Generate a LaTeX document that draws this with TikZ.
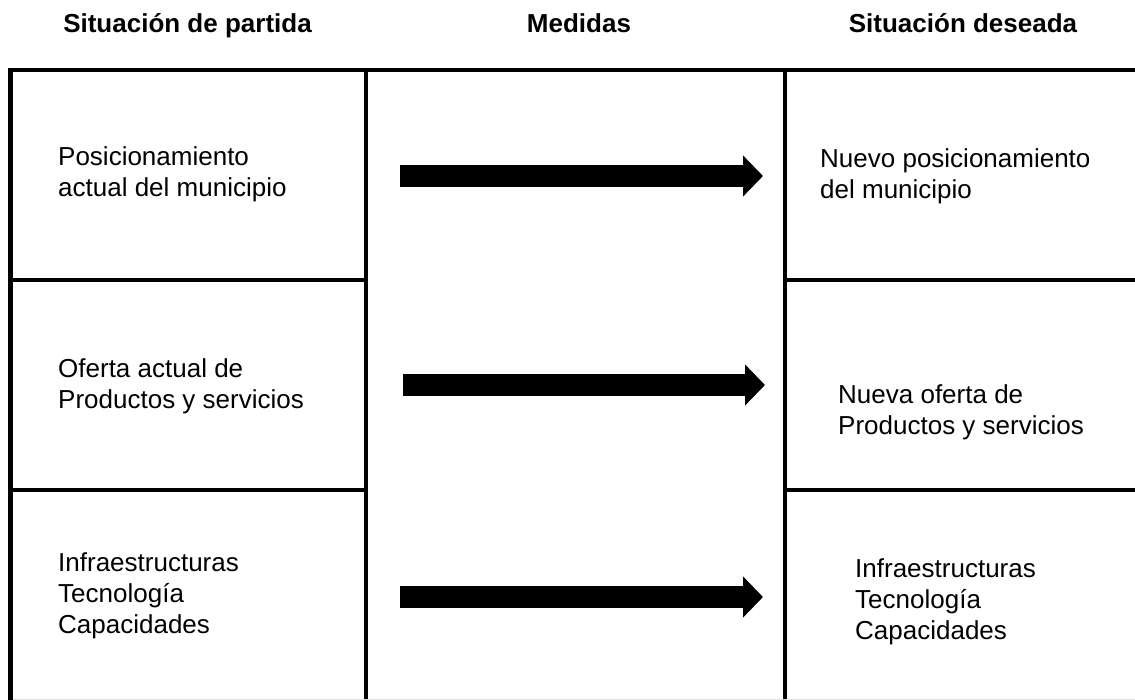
\documentclass[tikz,border=0pt]{standalone}
\usepackage{fontspec}
\setmainfont{Liberation Sans}
\usetikzlibrary{arrows.meta}
\begin{document}
\begin{tikzpicture}[x=1pt, y=-1pt,
  grid/.style={line width=4.5pt},
  head/.style={font=\fontsize{26}{31}\selectfont\bfseries, anchor=base, inner sep=0pt},
  cell/.style={font=\fontsize{26}{31}\selectfont, align=left, anchor=north west, inner sep=0pt},
  bigarrow/.style={line width=22pt, -{Triangle[length=20pt,width=40pt]}}]
\useasboundingbox (0,0) rectangle (1135,700);
% headings
\node[head] (hdstart) at (187.5,33) {Situación de partida};
\node[head] (hdmeasures) at (579,33) {Medidas};
\node[head] (hdgoal) at (963,33) {Situación deseada};
% table lines
\draw[grid] (1135,70) -- (10.5,70) -- (10.5,700);
\draw[grid] (366,70) -- (366,700);
\draw[grid] (785,70) -- (785,700);
\draw[grid] (10.5,280) -- (366,280);
\draw[grid] (10.5,490) -- (366,490);
\draw[grid] (785,280) -- (1135,280);
\draw[grid] (785,490) -- (1135,490);
\draw[gray!25, line width=1pt] (13,699.5) -- (1135,699.5);
% cells
\node[cell] (cur1) at (58,146) {Posicionamiento\\actual del municipio};
\node[cell] (cur2) at (58,358) {Oferta actual de\\Productos y servicios};
\node[cell] (cur3) at (58,552) {Infraestructuras\\Tecnología\\Capacidades};
\node[cell] (new1) at (820,148) {Nuevo posicionamiento\\del municipio};
\node[cell] (new2) at (838,384) {Nueva oferta de\\Productos y servicios};
\node[cell] (new3) at (855,558) {Infraestructuras\\Tecnología\\Capacidades};
% arrows
\coordinate (m1s) at (400,176);
\coordinate (m1e) at (763,176);
\coordinate (m2s) at (403,385);
\coordinate (m2e) at (765,385);
\coordinate (m3s) at (400,597);
\coordinate (m3e) at (763,597);
\draw[bigarrow] (m1s) -- (m1e);
\draw[bigarrow] (m2s) -- (m2e);
\draw[bigarrow] (m3s) -- (m3e);
\end{tikzpicture}
\end{document}
